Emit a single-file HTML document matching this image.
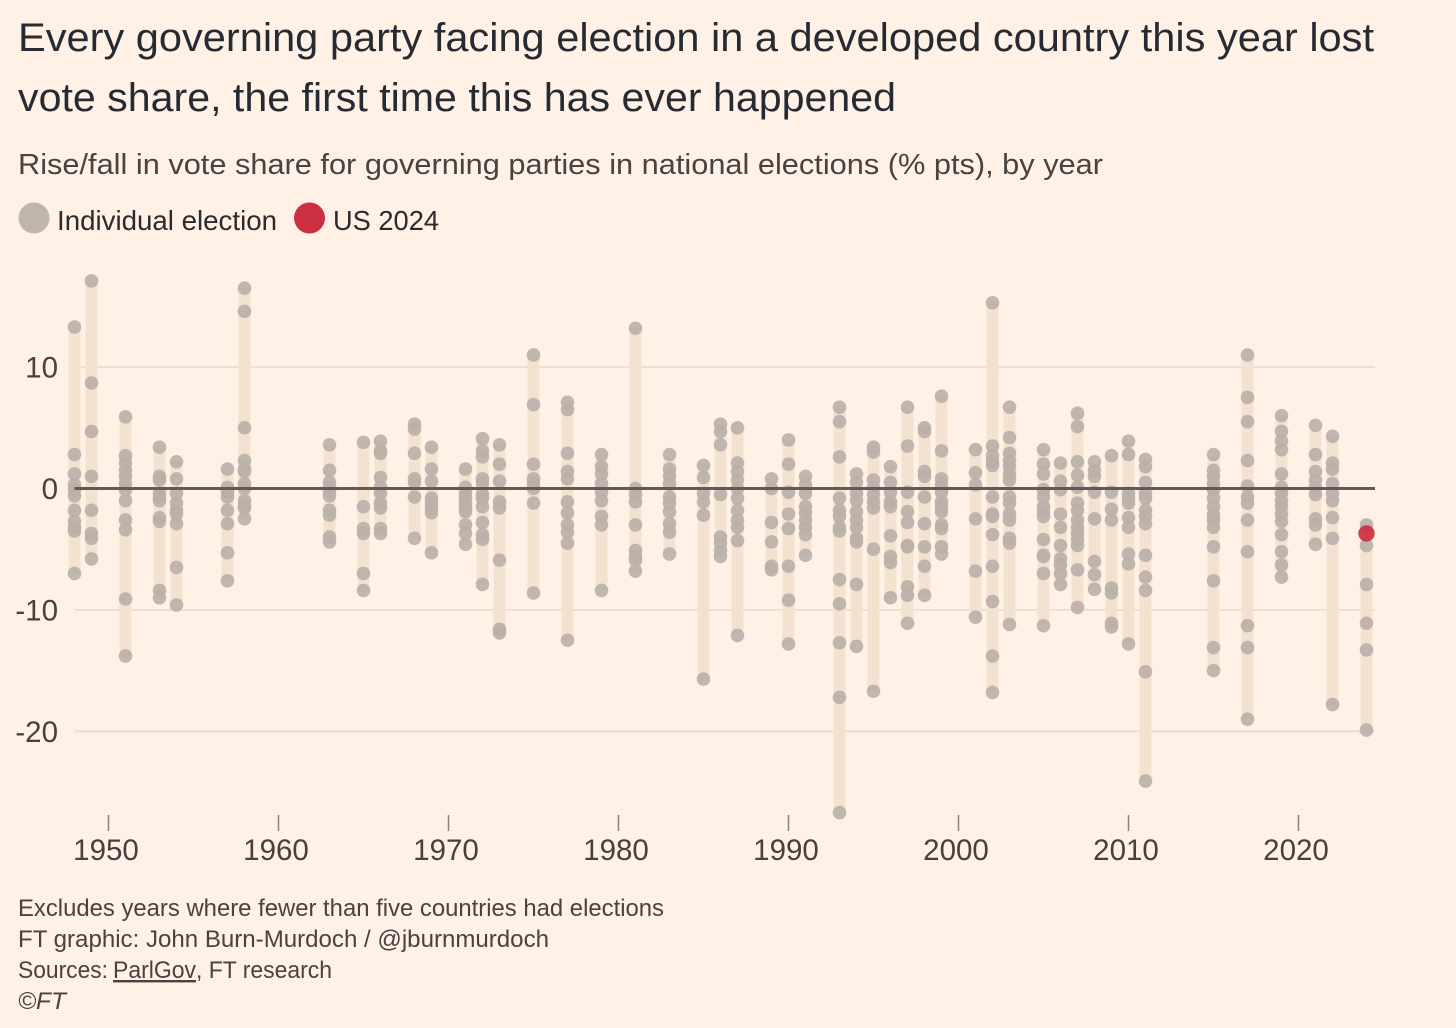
<!DOCTYPE html>
<html lang="en">
<head>
<meta charset="utf-8">
<title>Governing party vote share by year</title>
<style>
html,body{margin:0;padding:0;background:#fff1e5;}
body{width:1456px;height:1028px;overflow:hidden;}
svg{display:block;}
text{font-family:"Liberation Sans",sans-serif;}
.title{font-size:40px;fill:#262a33;}
.sub{font-size:29px;fill:#474341;}
.leg{font-size:28px;fill:#2b2a2c;}
.foot{font-size:24px;fill:#484341;}
.tick{font-size:29.5px;fill:#45413f;}
</style>
</head>
<body>
<svg id="chart" xmlns="http://www.w3.org/2000/svg" width="1456" height="1028" viewBox="0 0 1456 1028">
  <rect x="0" y="0" width="1456" height="1028" fill="#fff1e5"/>
  <text class="title" x="18" y="51" textLength="1356" lengthAdjust="spacingAndGlyphs">Every governing party facing election in a developed country this year lost</text>
  <text class="title" x="18" y="111" textLength="878" lengthAdjust="spacingAndGlyphs">vote share, the first time this has ever happened</text>
  <text class="sub" x="18" y="174" textLength="1085" lengthAdjust="spacingAndGlyphs">Rise/fall in vote share for governing parties in national elections (% pts), by year</text>

  <g>
    <circle cx="34" cy="218" r="15.5" fill="#bfb6ae"/>
    <text class="leg" x="57" y="230" textLength="220" lengthAdjust="spacingAndGlyphs">Individual election</text>
    <circle cx="309.5" cy="218" r="15.5" fill="#cc2f41"/>
    <text class="leg" x="333" y="230" textLength="106" lengthAdjust="spacingAndGlyphs">US 2024</text>
  </g>

  <g id="grid"></g>
  <g id="bars"></g>
  <g id="dots"></g>
  <g id="zero"></g>
  <g id="highlight"></g>
  <g id="yaxis"></g>
  <g id="xaxis"></g>

  <g>
    <text class="foot" x="18" y="916" textLength="646" lengthAdjust="spacingAndGlyphs">Excludes years where fewer than five countries had elections</text>
    <text class="foot" x="18" y="947" textLength="531" lengthAdjust="spacingAndGlyphs">FT graphic: John Burn-Murdoch / @jburnmurdoch</text>
    <text class="foot" x="18" y="978" textLength="90" lengthAdjust="spacingAndGlyphs">Sources:</text>
    <text class="foot" x="113" y="978" textLength="83" lengthAdjust="spacingAndGlyphs" text-decoration="underline">ParlGov</text>
    <text class="foot" x="196" y="978" textLength="136" lengthAdjust="spacingAndGlyphs">, FT research</text>
    <text class="foot" x="18" y="1009" font-style="italic" textLength="48" lengthAdjust="spacingAndGlyphs">©FT</text>
  </g>
</svg>
<script>
const years = [1948,1949,1951,1953,1954,1957,1958,1963,1965,1966,1968,1969,1971,1972,1973,1975,1977,1979,1981,1983,1985,1986,1987,1989,1990,1991,1993,1994,1995,1996,1997,1998,1999,2001,2002,2003,2005,2006,2007,2008,2009,2010,2011,2015,2017,2019,2021,2022,2024];
const voteShareChanges = [
  [13.3,2.8,1.2,0.3,-0.1,-0.6,-1.8,-2.7,-3.2,-3.5,-7.0],
  [17.1,8.7,4.7,1.0,-1.8,-3.7,-4.1,-5.8],
  [5.9,2.7,2.1,1.5,1.0,0.4,-0.1,-1.0,-2.6,-3.4,-9.1,-13.8],
  [3.4,1.0,0.7,-0.4,-0.7,-1.0,-2.4,-2.7,-8.4,-9.0],
  [2.2,0.8,-0.4,-1.2,-1.8,-2.1,-2.9,-6.5,-9.6],
  [1.6,0.1,-0.3,-0.7,-1.8,-2.9,-5.3,-7.6],
  [16.5,14.6,5.0,2.3,1.6,1.4,0.4,0.0,-1.0,-1.4,-1.6,-2.5],
  [3.6,1.5,0.5,0.1,-0.2,-0.6,-1.8,-2.2,-4.0,-4.4],
  [3.8,-1.5,-3.3,-3.7,-7.0,-8.4],
  [3.9,3.1,2.9,0.9,0.1,-0.4,-1.2,-1.6,-3.3,-3.7],
  [5.3,4.9,2.9,0.8,0.5,-0.7,-4.1],
  [3.4,1.6,0.6,-0.8,-1.2,-1.6,-2.0,-5.3],
  [1.6,0.1,-0.4,-0.8,-1.2,-1.6,-1.9,-3.0,-3.7,-4.6],
  [4.1,3.1,2.6,0.8,0.4,-0.5,-0.8,-1.5,-2.8,-3.8,-4.2,-7.9],
  [3.6,2.0,0.6,-1.1,-1.6,-5.9,-11.6,-11.9],
  [11.0,6.9,2.0,0.8,0.4,0.0,-1.2,-8.6],
  [7.1,6.5,2.9,1.4,0.8,-1.1,-2.0,-3.0,-3.6,-4.5,-12.5],
  [2.8,1.8,1.2,0.4,-0.3,-1.0,-2.3,-3.0,-8.4],
  [13.2,0.0,-0.5,-1.1,-3.0,-5.1,-5.6,-5.9,-6.8],
  [2.8,1.6,1.0,0.4,-0.7,-1.2,-1.9,-2.9,-3.6,-5.4],
  [1.9,0.9,-0.4,-1.1,-2.2,-15.7],
  [5.3,4.7,3.6,-0.5,-4.0,-4.5,-5.1,-5.6],
  [5.0,2.1,1.4,0.7,0.0,-0.8,-1.8,-2.6,-3.2,-4.3,-12.1],
  [0.8,0.0,-2.8,-4.4,-6.4,-6.7],
  [4.0,2.0,-0.3,-2.1,-3.3,-6.4,-9.2,-12.8],
  [1.0,0.3,-0.4,-1.5,-2.0,-2.6,-3.2,-3.8,-5.5],
  [6.7,5.5,2.6,-0.8,-1.8,-2.3,-3.2,-3.5,-7.5,-9.5,-12.7,-17.2,-26.7],
  [1.2,0.5,-0.4,-1.0,-1.9,-2.6,-3.2,-4.1,-4.4,-7.9,-13.0],
  [3.4,3.0,0.7,0.1,-0.5,-1.1,-1.6,-5.0,-16.7],
  [1.8,0.5,-0.3,-1.1,-1.5,-3.9,-5.6,-6.1,-9.0],
  [6.7,3.5,-0.3,-1.9,-2.8,-4.7,-4.8,-8.1,-8.8,-11.1],
  [5.0,4.7,1.4,1.0,-0.7,-2.9,-4.8,-6.4,-8.8],
  [7.6,3.1,0.8,0.3,-0.3,-1.1,-1.5,-1.9,-3.0,-3.3,-4.8,-5.4],
  [3.2,1.3,0.3,-2.5,-6.8,-10.6],
  [15.3,3.5,2.7,2.2,1.9,-0.7,-2.1,-2.3,-3.8,-6.4,-9.3,-13.8,-16.8],
  [6.7,4.2,2.9,2.3,1.8,1.2,0.7,-0.7,-1.2,-2.1,-2.6,-4.1,-4.5,-11.2],
  [3.2,2.0,1.2,-0.1,-0.7,-1.5,-1.9,-2.3,-4.2,-5.5,-5.6,-7.0,-11.3],
  [2.1,0.6,-0.1,-2.1,-3.2,-4.7,-5.8,-6.3,-7.0,-7.9],
  [6.2,5.1,2.2,1.1,0.1,-1.2,-1.8,-2.6,-3.2,-3.7,-4.2,-4.7,-6.7,-9.8],
  [2.2,1.5,1.0,-0.3,-2.5,-6.0,-7.1,-8.3],
  [2.7,-0.3,-1.7,-2.6,-8.2,-8.6,-11.1,-11.4],
  [3.9,2.8,-0.4,-0.8,-1.2,-2.4,-3.2,-5.4,-6.2,-12.8],
  [2.4,1.8,0.5,-0.4,-0.8,-1.8,-2.3,-2.9,-5.5,-7.3,-8.4,-15.1,-24.1],
  [2.8,1.5,1.0,0.4,-0.1,-0.8,-1.5,-2.2,-2.6,-3.2,-4.8,-7.6,-13.1,-15.0],
  [11.0,7.5,5.5,2.3,0.2,-0.7,-1.2,-2.6,-5.2,-11.3,-13.1,-19.0],
  [6.0,4.7,3.9,3.2,1.2,0.1,-0.4,-1.0,-1.5,-2.1,-2.7,-3.8,-5.2,-6.3,-7.3],
  [5.2,2.8,1.4,0.7,0.1,-0.5,-2.5,-3.0,-4.6],
  [4.3,2.1,1.6,0.4,-0.4,-1.0,-2.4,-4.1,-17.8],
  [-3.0,-4.7,-7.9,-11.1,-13.3,-19.9]
];
const highlightYear = 2024;
const highlightShare = -3.7;
const xTickYears = [1950,1960,1970,1980,1990,2000,2010,2020];
const yTickValues = [10,0,-10,-20];
const yTickLabels = ["10","0","-10","-20"];

const SVG_NS = "http://www.w3.org/2000/svg";
function xScale(year){ return 108.5 + (year - 1950) * 17; }
function yScale(value){ return 488.5 - value * 12.14; }
function make(tag, parentId, attrs){
  const el = document.createElementNS(SVG_NS, tag);
  for (const key in attrs) el.setAttribute(key, attrs[key]);
  document.getElementById(parentId).appendChild(el);
  return el;
}

yTickValues.forEach(function(value, i){
  if (value !== 0) {
    const line = make("rect", "grid", {x: 74.5, y: yScale(value) - 1, width: 1300.5, height: 2, fill: "#eadfd3"});
    
    
  }
  const label = make("text", "yaxis", {class: "tick", x: 58, y: yScale(value) + 10.5, "text-anchor": "end"});
  
  
  label.textContent = yTickLabels[i];
});

const zeroLine = make("rect", "zero", {x: 74.5, y: yScale(0) - 1.5, width: 1300.5, height: 3, fill: "#5f5a59"});



years.forEach(function(year, i){
  const values = voteShareChanges[i];
  const top = Math.max.apply(null, values);
  const bottom = Math.min.apply(null, values);
  const bar = make("rect", "bars", {x: xScale(year) - 6, y: yScale(top), width: 12, height: yScale(bottom) - yScale(top), fill: "#f3e2d0"});
  
  
  values.forEach(function(value){
    const dot = make("circle", "dots", {cx: xScale(year), cy: yScale(value), r: 6.8, fill: "#bab0a7", "fill-opacity": 0.9});
    
    
  });
});

const usDot = make("circle", "highlight", {cx: xScale(highlightYear), cy: yScale(highlightShare), r: 8.2, fill: "#cc2f41", "fill-opacity": 0.92});



xTickYears.forEach(function(year){
  const tick = make("rect", "xaxis", {x: xScale(year) - 0.75, y: 815, width: 1.5, height: 16, fill: "#8a8380"});
  
  
  const label = make("text", "xaxis", {class: "tick", x: xScale(year) - 2.5, y: 860, "text-anchor": "middle"});
  
  
  label.textContent = String(year);
});
</script>
</body>
</html>
